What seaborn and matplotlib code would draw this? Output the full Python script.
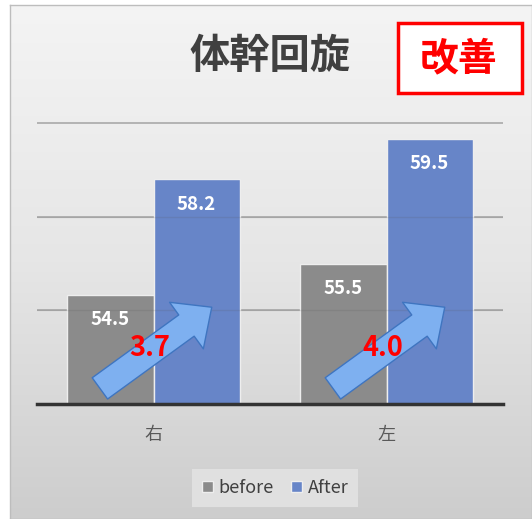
import numpy as np
import pandas as pd
import matplotlib
matplotlib.use('Agg')
import matplotlib.pyplot as plt
import seaborn as sns
from matplotlib.patches import Rectangle
from matplotlib.colors import LinearSegmentedColormap

# ---- data ----
categories = ['右', '左']
series = ['before', 'After']
before = [54.5, 55.5]
after = [58.2, 59.5]
yticks = [51, 54, 57, 60]
title = '体幹回旋'
badge = '改善'

sns.set_style('white')
plt.rcParams['font.family'] = ['Noto Sans CJK JP', 'DejaVu Sans']

df = pd.DataFrame({
    'side': categories * 2,
    'phase': [series[0]] * len(categories) + [series[1]] * len(categories),
    'value': before + after,
})

W, H = 532, 519
fig = plt.figure(figsize=(W / 100, H / 100), dpi=100)
fig.patch.set_facecolor('white')

# background panel with gradient
bg = fig.add_axes([10 / W, 0, 1 - 10 / W, 1 - 5 / H], zorder=0)
grad = np.linspace(0, 1, 256).reshape(-1, 1)
cmap = LinearSegmentedColormap.from_list('bg', ['#f4f4f4', '#e6e6e6', '#cdcdcd'])
bg.imshow(grad, aspect='auto', cmap=cmap, extent=[0, 1, 0, 1], origin='upper')
bg.set_xticks([]); bg.set_yticks([])
for s in bg.spines.values():
    s.set_color('#bdbdbd'); s.set_linewidth(1)

# main axes
ylo, yhi = 51, 60.1
ax = fig.add_axes([37 / W, 115 / H, 466 / W, (281 * (yhi - ylo) / 9) / H], zorder=1)
ax.set_facecolor('none')

sns.barplot(data=df, x='side', y='value', hue='phase', order=categories,
            hue_order=series, palette=['#8b8b8b', '#6785c8'], width=0.74,
            edgecolor='#eeeeee', linewidth=1, saturation=1, ax=ax)

ax.set_xlim(-0.5, 1.5)
ax.set_ylim(ylo, yhi)
ax.set_yticks(yticks)
ax.set_yticklabels([])
ax.yaxis.grid(True, color='#a3a3a3', lw=1.1)
ax.set_axisbelow(True)
ax.tick_params(axis='both', length=0)
ax.tick_params(axis='x', pad=16, labelsize=13, labelcolor='#595959')
ax.set_xlabel(''); ax.set_ylabel('')
for k in ['left', 'right', 'top']:
    ax.spines[k].set_visible(False)
ax.spines['bottom'].set_color('#333333')
ax.spines['bottom'].set_linewidth(2.5)

# faint gridlines showing through the bars
for yv in yticks[1:-1]:
    ax.axhline(yv, color='#555555', lw=1, alpha=0.15, zorder=3)

# value labels inside bars
for cont in ax.containers:
    for bar in cont:
        h = bar.get_height()
        ax.annotate(f'{h:.1f}', (bar.get_x() + bar.get_width() / 2, h),
                    xytext=(0, -18), textcoords='offset points', ha='center',
                    va='center', color='white', fontweight='bold', fontsize=13.5)

# improvement arrows and differences
for i, (b, a) in enumerate(zip(before, after)):
    ax.annotate('', xy=(i + 0.25, 54.1), xytext=(i - 0.23, 51.5),
                arrowprops=dict(arrowstyle='simple,head_length=1.25,head_width=2.3,tail_width=1.05',
                                mutation_scale=18, fc='#7eb0f0', ec='#3f75c0', lw=1,
                                shrinkA=0, shrinkB=0), zorder=4)
    ax.text(i - 0.015, 52.8, f'{a - b:.1f}', color='#ff0000', fontsize=19.5,
            fontweight='bold', ha='center', va='center', zorder=5)

# legend
handles, labels = ax.get_legend_handles_labels()
if ax.get_legend() is not None:
    ax.get_legend().remove()
fig.legend(handles, labels, loc='center', bbox_to_anchor=(275 / W, 1 - 488 / H),
           ncol=2, frameon=True, facecolor='#e0e0e0', edgecolor='none', fancybox=False,
           framealpha=1, fontsize=13, handlelength=0.6, handleheight=0.6,
           handletextpad=0.3, columnspacing=1.0, borderpad=0.55, labelcolor='#404040')

# title and badge
fig.text(270 / W, 1 - 57 / H, title, ha='center', va='center', fontsize=29,
         fontweight='bold', color='#404040')
fig.add_artist(Rectangle((398 / W, 1 - 93 / H), 124 / W, 70 / H, transform=fig.transFigure,
                         fc='white', ec='#ff0000', lw=2.5, zorder=3))
fig.text(459 / W, 1 - 59 / H, badge, ha='center', va='center', fontsize=28,
         fontweight='bold', color='#ff0000', zorder=4)

fig.savefig('out.png', dpi=100, facecolor=fig.get_facecolor())
